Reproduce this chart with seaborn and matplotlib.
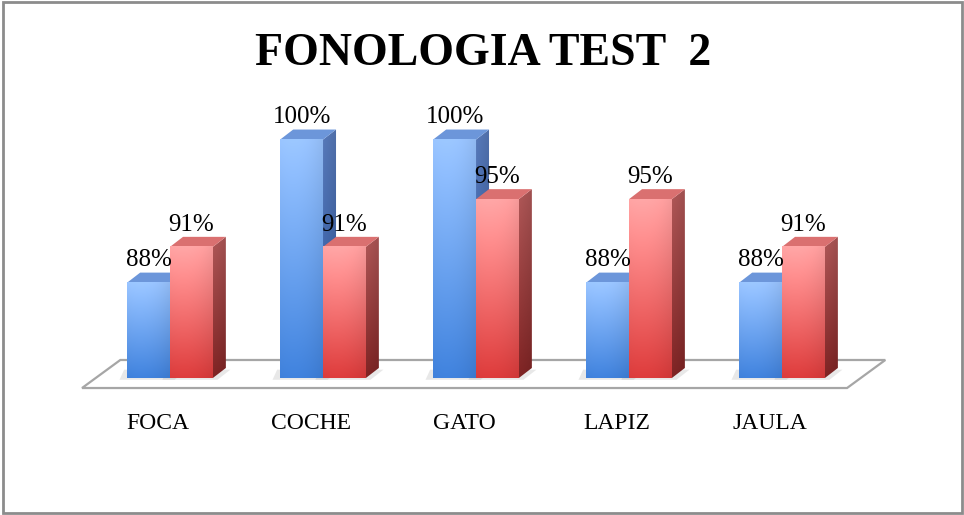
import numpy as np
import pandas as pd
import matplotlib
matplotlib.use("Agg")
import matplotlib.pyplot as plt
import seaborn as sns
from matplotlib.patches import Polygon, Rectangle
from matplotlib import transforms

# chart data
words = ["FOCA", "COCHE", "GATO", "LAPIZ", "JAULA"]
serie_1 = [88, 100, 100, 88, 88]
serie_2 = [91, 91, 95, 95, 91]
series = ["Serie 1", "Serie 2"]

base = 80        # value where the chart floor sits
top_lim = 101.64

# colours: (front top, front bottom, side top, side bottom, top face)
shades = {
    "Serie 1": ((150, 192, 250), (62, 126, 214), (88, 122, 186), (44, 86, 160), (108, 150, 218)),
    "Serie 2": ((255, 160, 160), (214, 58, 58), (176, 88, 88), (128, 36, 36), (218, 112, 112)),
}

df = pd.DataFrame({
    "palabra": words * 2,
    "serie": [series[0]] * len(words) + [series[1]] * len(words),
    "valor": serie_1 + serie_2,
})

sns.set_style("white")
plt.rcParams["font.family"] = ["Liberation Serif", "DejaVu Serif"]
plt.rcParams["text.color"] = "black"

fig = plt.figure(figsize=(9.64, 5.15), dpi=100)
ax = fig.add_axes([60 / 964, 137 / 515, 840 / 964, 258 / 515])

sns.barplot(data=df, x="palabra", y="valor", hue="serie",
            palette=["#5a8fdc", "#e05a5a"], width=0.56, saturation=1,
            legend=False, ax=ax)

xlim = (-0.719, 4.771)
depth_x = 0.085
depth_y = 0.84


def gradient(c_top, c_bot, side=False):
    t = np.linspace(0, 1, 80)[:, None, None]
    top = np.array(c_top)[None, None, :] / 255
    bot = np.array(c_bot)[None, None, :] / 255
    img = top * (1 - t) + bot * t
    h = np.linspace(0, 1, 24)[None, :, None]
    if side:
        m = 1 - 0.1 * h
    else:
        m = 1.04 - 0.16 * (h - 0.3) ** 2
    return np.clip(img * m, 0, 1)


ticks = ax.get_xticks()

for k, (cont, name) in enumerate(zip(ax.containers, series)):
    f_top, f_bot, s_top, s_bot, t_col = shades[name]
    z = 2 + 3 * k
    for patch in cont:
        patch.set_visible(False)
        x0 = patch.get_x()
        w = patch.get_width()
        x1 = x0 + w
        top = patch.get_y() + patch.get_height()

        # soft floor shadow
        sh = Polygon([(x0 - 0.05, base - 0.15), (x1 + 0.03, base - 0.15),
                      (x1 + depth_x + 0.03, base + 0.7), (x0 - 0.02, base + 0.7)],
                     closed=True, facecolor="#9a9a9a", alpha=0.22,
                     edgecolor="none", zorder=1.5, clip_on=False)
        ax.add_patch(sh)

        # side face
        side = Polygon([(x1, base), (x1 + depth_x, base + depth_y),
                        (x1 + depth_x, top + depth_y), (x1, top)],
                       closed=True, facecolor="none", edgecolor="none", zorder=z)
        ax.add_patch(side)
        im = ax.imshow(gradient(s_top, s_bot, side=True),
                       extent=[x1, x1 + depth_x, base, top + depth_y],
                       origin="upper", aspect="auto", zorder=z,
                       interpolation="bilinear")
        im.set_clip_path(side)

        # top face
        ax.add_patch(Polygon([(x0, top), (x1, top), (x1 + depth_x, top + depth_y),
                              (x0 + depth_x, top + depth_y)], closed=True,
                             facecolor=np.array(t_col) / 255, edgecolor="none",
                             zorder=z + 0.5))

        # front face
        ax.imshow(gradient(f_top, f_bot), extent=[x0, x1, base, top],
                  origin="upper", aspect="auto", zorder=z + 1,
                  interpolation="bilinear")

        ax.annotate(f"{top:.0f}%", (x0 + w / 2, top + depth_y),
                    xytext=(0, 4.5), textcoords="offset points",
                    ha="center", va="baseline", fontsize=18, zorder=10)

# floor of the chart
n = len(words)
floor = Polygon([(-0.575, base - 0.84), (n - 1 + 0.425, base - 0.84),
                 (n - 1 + 0.675, base + 1.51), (-0.325, base + 1.51)],
                closed=True, facecolor="white", edgecolor="#a6a6a6",
                lw=1.6, zorder=1, clip_on=False)
ax.add_patch(floor)

ax.set_xlim(*xlim)
ax.set_ylim(base, top_lim)
ax.set_xticks([])
ax.set_yticks([])
ax.set_xlabel("")
ax.set_ylabel("")
for s in ax.spines.values():
    s.set_visible(False)
ax.patch.set_alpha(0)

# category labels below the floor
trans = transforms.blended_transform_factory(ax.transData, ax.transAxes)
for xi, word in zip(ticks, words):
    ax.annotate(word, (xi, 0), xycoords=trans, xytext=(-8.6, -25),
                textcoords="offset points", ha="center", va="top",
                fontsize=17, annotation_clip=False)

fig.text(483 / 964, 1 - 54 / 515, "FONOLOGIA TEST  2", ha="center",
         va="center", fontsize=33, fontweight="bold")

fig.add_artist(Rectangle((3 / 964, 2 / 515), 959 / 964, 511 / 515,
                         transform=fig.transFigure, fill=False,
                         edgecolor="#8c8c8c", lw=2))

fig.savefig("out.png", dpi=100)
